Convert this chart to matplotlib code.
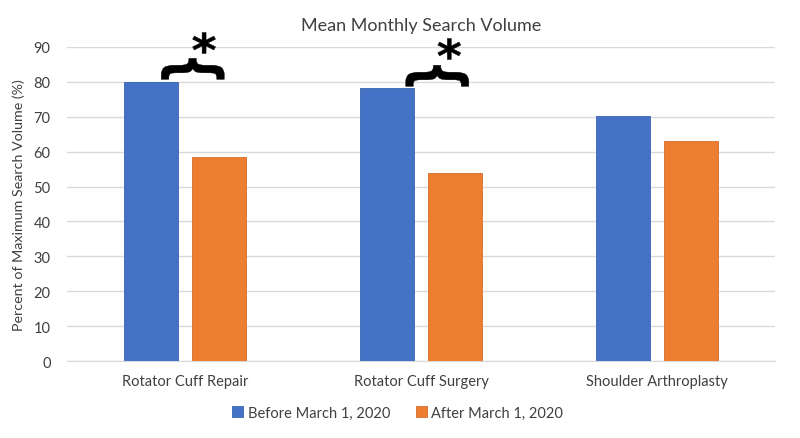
import numpy as np
import matplotlib.pyplot as plt
from matplotlib.textpath import TextPath
from matplotlib.font_manager import FontProperties
from matplotlib.patches import PathPatch
from matplotlib.transforms import Affine2D

plt.rcParams['font.family'] = ['Lato', 'DejaVu Sans']

categories = ["Rotator Cuff Repair", "Rotator Cuff Surgery", "Shoulder Arthroplasty"]
before = [80.0, 78.2, 70.2]
after = [58.5, 53.9, 63.1]
series_names = ["Before March 1, 2020", "After March 1, 2020"]

# significance marks: (x, y) in data units for brace and star
brace_pos = [(0.032, 83.7), (1.068, 81.7)]
star_pos = [(0.080, 91.1), (1.119, 89.4)]

blue = '#4472C4'
orange = '#ED7D31'

fig = plt.figure(figsize=(8, 4.39), dpi=100)
ax = fig.add_axes([0.084, 0.175, 0.885, 0.716])

x = np.arange(len(categories))
w = 0.229
off = 0.144
ax.bar(x - off, before, w, color=blue, edgecolor='#3a64b0', lw=0.6,
       label=series_names[0], zorder=3)
ax.bar(x + off, after, w, color=orange, edgecolor='#d86e28', lw=0.6,
       label=series_names[1], zorder=3)

ax.set_xlim(-0.5, 2.5)
ax.set_ylim(0, 90)
ax.set_yticks(np.arange(0, 91, 10))
ax.set_xticks(x)
ax.set_xticklabels(categories)
ax.grid(axis='y', color='#d9d9d9', lw=1, zorder=0)
for s in ['top', 'right', 'left']:
    ax.spines[s].set_visible(False)
ax.spines['bottom'].set_color('#d9d9d9')
ax.tick_params(axis='both', length=0, labelsize=10.5, colors='#404040')
ax.tick_params(axis='y', pad=12)
ax.tick_params(axis='x', pad=9)
ax.set_ylabel("Percent of Maximum Search Volume (%)", fontsize=10.3,
              color='#404040', labelpad=6)
ax.set_title("Mean Monthly Search Volume", fontsize=13, color='#404040', pad=12)


def glyph(ch, xy, w_px, h_px, rot=0):
    # draw a character stretched to a given pixel box, centred at xy (data)
    tp = TextPath((0, 0), ch, size=1,
                  prop=FontProperties(family='DejaVu Sans', weight='bold'))
    tp = Affine2D().rotate_deg(rot).transform_path(tp)
    ext = tp.get_extents()
    cx, cy = ax.transData.transform(xy)
    tr = (Affine2D()
          .translate(-(ext.x0 + ext.x1) / 2, -(ext.y0 + ext.y1) / 2)
          .scale(w_px / ext.width, h_px / ext.height)
          .translate(cx, cy))
    p = PathPatch(tr.transform_path(tp), fc='black', ec='black', lw=0.3,
                  transform=None, clip_on=False, zorder=5)
    fig.add_artist(p)


for bx, by in brace_pos:
    glyph("{", (bx, by), 63, 21, rot=-90)
for sx, sy in star_pos:
    glyph("*", (sx, sy), 23, 21)

fig.legend(loc='lower center', bbox_to_anchor=(0.497, 0.012), ncol=2, frameon=False,
           fontsize=10.5, handlelength=0.75, handleheight=0.75,
           columnspacing=1.75, handletextpad=0.3, labelcolor='#404040')

fig.savefig("out.png", dpi=100)
